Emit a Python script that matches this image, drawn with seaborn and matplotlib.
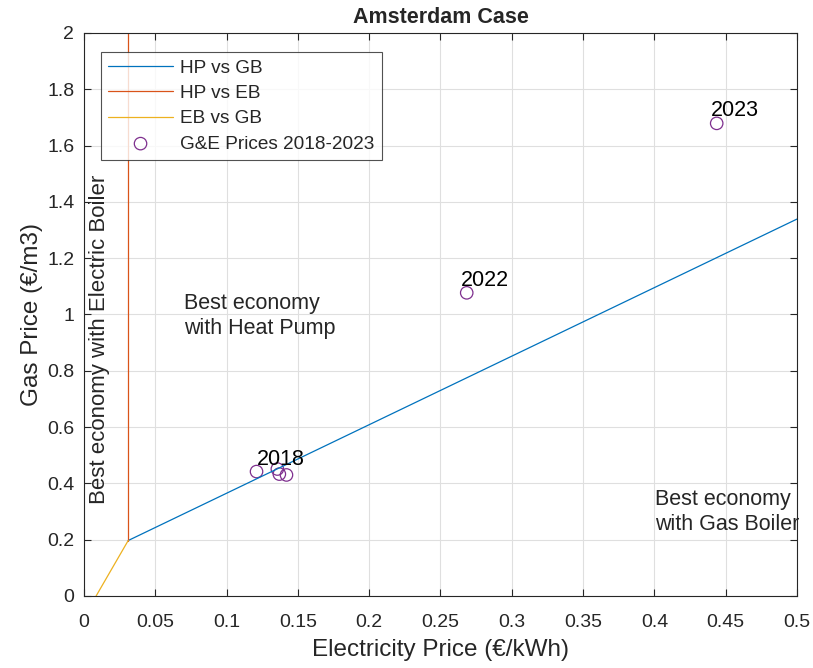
import matplotlib
matplotlib.use("Agg")
import matplotlib.pyplot as plt
import seaborn as sns
import pandas as pd

# Boundary lines
hp_gb_x = [0.031, 0.5]
hp_gb_y = [0.197, 1.339]
hp_eb_x = [0.031, 0.031]
hp_eb_y = [0.197, 2.0]
eb_gb_x = [0.0085, 0.031]
eb_gb_y = [0.0, 0.197]

# Gas & electricity prices 2018-2023
years = [2018, 2019, 2020, 2021, 2022, 2023]
elec_price = [0.121, 0.1356, 0.137, 0.142, 0.2684, 0.4437]
gas_price = [0.442, 0.451, 0.433, 0.430, 1.077, 1.679]
labelled_years = [2018, 2022, 2023]

sns.set_theme(style="white")
plt.rcParams['font.family'] = ['Liberation Sans', 'DejaVu Sans']

fig = plt.figure(figsize=(8.13, 6.68), dpi=100)
ax = fig.add_axes([0.1033, 0.1078, 0.877, 0.8428])

lines = pd.concat([
    pd.DataFrame({'x': hp_gb_x, 'y': hp_gb_y, 'name': 'HP vs GB'}),
    pd.DataFrame({'x': hp_eb_x, 'y': hp_eb_y, 'name': 'HP vs EB'}),
    pd.DataFrame({'x': eb_gb_x, 'y': eb_gb_y, 'name': 'EB vs GB'}),
])
sns.lineplot(data=lines, x='x', y='y', hue='name', sort=False,
             palette=['#0072BD', '#D95319', '#EDB120'], linewidth=0.9,
             estimator=None, ax=ax)

pts = pd.DataFrame({'elec': elec_price, 'gas': gas_price, 'year': years})
sns.scatterplot(data=pts, x='elec', y='gas', marker='o', s=80,
                facecolors='none', edgecolor='#7E2F8E', linewidth=0.9,
                label='G&E Prices 2018-2023', ax=ax)

for yr, ex, gp in zip(years, elec_price, gas_price):
    if yr in labelled_years:
        dx = 0 if yr == 2018 else -4
        ax.annotate(str(yr), (ex, gp), xytext=(dx, 9), textcoords='offset points',
                    ha='left', va='center', fontsize=15.5, color='black')

ax.text(0.07, 0.995, 'Best economy\nwith Heat Pump', fontsize=15.5, ha='left', va='center',
        linespacing=1.25)
ax.text(0.4005, 0.30, 'Best economy\nwith Gas Boiler', fontsize=15.5, ha='left', va='center',
        linespacing=1.25)
ax.text(0.0108, 0.91, 'Best economy with Electric Boiler', fontsize=16, rotation=90,
        ha='center', va='center')

ax.set_xlim(0, 0.5)
ax.set_ylim(0, 2)
ax.set_xticks([i * 0.05 for i in range(11)])
ax.set_xticklabels(['0', '0.05', '0.1', '0.15', '0.2', '0.25', '0.3', '0.35', '0.4', '0.45', '0.5'])
ax.set_yticks([i * 0.2 for i in range(11)])
ax.set_yticklabels(['0', '0.2', '0.4', '0.6', '0.8', '1', '1.2', '1.4', '1.6', '1.8', '2'])
ax.grid(True, color='#dfdfdf', linewidth=0.8)
ax.tick_params(direction='in', length=5, width=0.8, colors='#262626', labelsize=14,
               top=True, right=True, bottom=True, left=True, labelcolor='#262626')
ax.tick_params(axis='x', pad=13)
ax.tick_params(axis='y', pad=7)
for sp in ax.spines.values():
    sp.set_color('#262626')
    sp.set_linewidth(0.8)

ax.set_xlabel('Electricity Price (€/kWh)', fontsize=17.5, color='#262626', labelpad=6)
ax.set_ylabel('Gas Price (€/m3)', fontsize=17.5, color='#262626', labelpad=3)
ax.set_title('Amsterdam Case', fontsize=15.5, fontweight='bold', pad=7)

handles, labels = ax.get_legend_handles_labels()
leg = ax.legend(handles, labels, loc='upper left', bbox_to_anchor=(0.0238, 0.966),
                fontsize=13.7, frameon=True, fancybox=False, edgecolor='#262626',
                borderpad=0.38, labelspacing=0.42, handlelength=3.4, handletextpad=0.38,
                borderaxespad=0)
leg.get_frame().set_linewidth(0.8)

fig.savefig('out.png', dpi=100)
